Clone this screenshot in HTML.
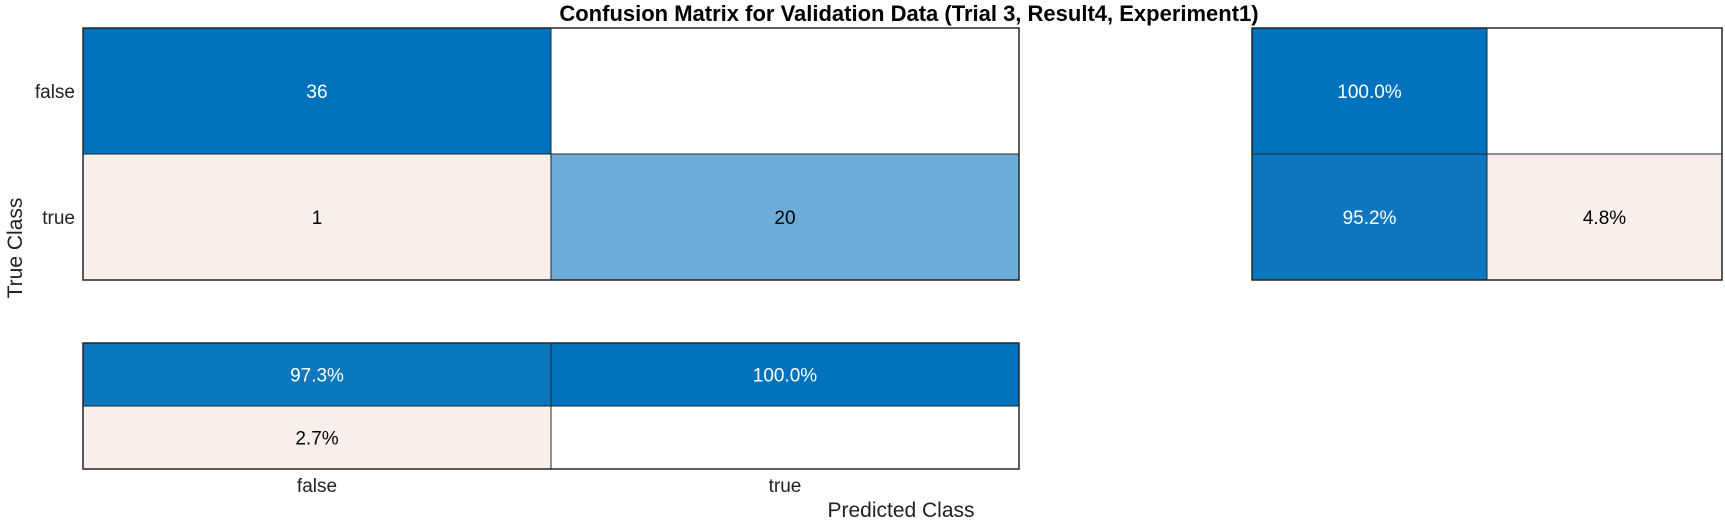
<!DOCTYPE html>
<html><head><meta charset="utf-8">
<style>
html,body{margin:0;padding:0;background:#fff;}
svg{display:block;font-family:"Liberation Sans",Arial,sans-serif;}
</style></head>
<body>
<svg id="chart" width="1725" height="522" viewBox="0 0 1725 522">
<text x="909" y="21" text-anchor="middle" font-size="22" font-weight="bold" fill="#000">Confusion Matrix for Validation Data (Trial 3, Result4, Experiment1)</text>
<text transform="translate(22,248) rotate(-90)" text-anchor="middle" font-size="21" fill="#222">True Class</text>
<text x="901" y="517" text-anchor="middle" font-size="21" fill="#222">Predicted Class</text>
<g id="cells"></g>
</svg>
<script>
const classes = ["false","true"];
const counts = [[36,0],[1,20]];
const rowPct = [["100.0%",""],["95.2%","4.8%"]];
const colPct = [["97.3%","100.0%"],["2.7%",""]];
const rowFill = [["#0072BD","#FFFFFF"],["#0D77BE","#F9EFEA"]];
const colFill = [["#0B77BE","#0072BD"],["#F9EFEA","#FFFFFF"]];
const countFill = [["#0072BD","#FFFFFF"],["#F9EFEA","#6BADD8"]];
const ns="http://www.w3.org/2000/svg";
const g=document.getElementById('cells');
function mk(t,a){const e=document.createElementNS(ns,t);for(const k in a)e.setAttribute(k,a[k]);g.appendChild(e);return e;}
function textColor(f){return (f==="#FFFFFF"||f==="#F9EFEA"||f==="#6BADD8")?"#000":"#fff";}
function grid(x0,y0,cw,ch,fills,labels,name){
  for(let r=0;r<2;r++)for(let c=0;c<2;c++){
    const rc=mk('rect',{x:x0+c*cw,y:y0+r*ch,width:cw,height:ch,fill:fills[r][c],stroke:'#262626','stroke-width':1});
    
    
    if(labels[r][c]!==""){
      const t=mk('text',{x:x0+c*cw+cw/2,y:y0+r*ch+ch/2+7,'text-anchor':'middle','font-size':19,fill:textColor(fills[r][c])});
      t.textContent=labels[r][c];
      
      
    }
  }
  const b=mk('rect',{x:x0,y:y0,width:cw*2,height:ch*2,fill:'none',stroke:'#262626','stroke-width':1.5});
  
  
}
const cw=468, ch=126, x0=83, y0=28;
grid(x0,y0,cw,ch,countFill,counts.map(r=>r.map(v=>v===0?"":String(v))),'count');
grid(1252,y0,235,ch,rowFill,rowPct,'row-summary');
grid(x0,343,cw,63,colFill,colPct,'column-summary');
classes.forEach((c,i)=>{
  const t=mk('text',{x:75,y:y0+i*ch+ch/2+7,'text-anchor':'end','font-size':19,fill:'#222'});
  t.textContent=c;
  
  
  const u=mk('text',{x:x0+i*cw+cw/2,y:492,'text-anchor':'middle','font-size':19,fill:'#222'});
  u.textContent=c;
  
  
});
</script>
</body></html>
